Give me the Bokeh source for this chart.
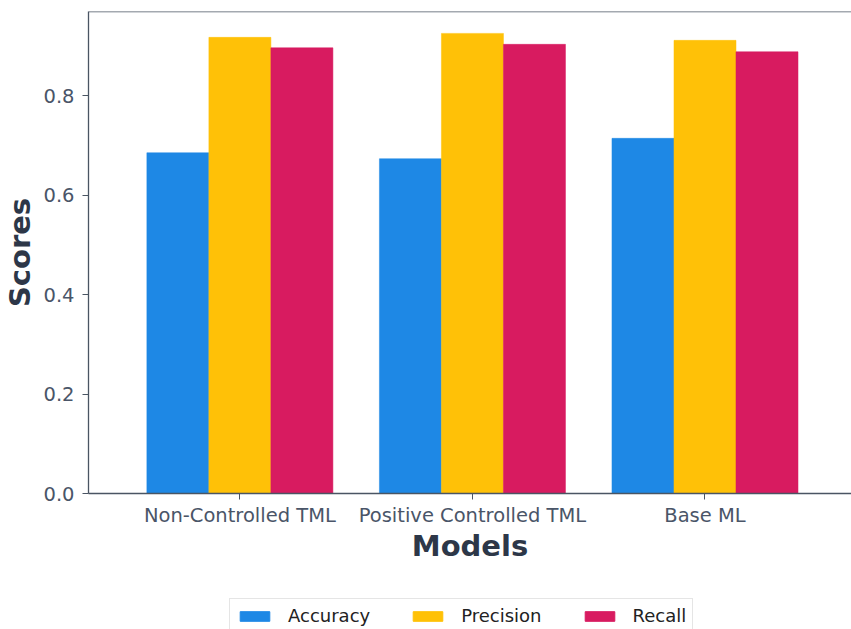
from bokeh.plotting import figure
from bokeh.layouts import column
from bokeh.models import ColumnDataSource, Range1d, FixedTicker, Legend, LegendItem, Span
from bokeh.transform import dodge
from bokeh.embed import file_html
from bokeh.resources import INLINE

models = ["Non-Controlled TML", "Positive Controlled TML", "Base ML"]
accuracy = [0.685, 0.673, 0.714]
precision = [0.917, 0.925, 0.911]
recall = [0.896, 0.903, 0.888]
y_ticks = [0.0, 0.2, 0.4, 0.6, 0.8]

series_names = ["Accuracy", "Precision", "Recall"]
colors = ["#1E88E5", "#FFC107", "#D81B60"]

pos = list(range(len(models)))
src = ColumnDataSource(dict(x=pos, Accuracy=accuracy, Precision=precision, Recall=recall))

FONT = "DejaVu Sans"
TICK_COLOR = "#4a5568"
AXIS_COLOR = "#4a5563"
LABEL_COLOR = "#2d3748"

p = figure(width=851, height=598, output_backend="svg", toolbar_location=None,
           x_range=Range1d(-0.651, 2.630), y_range=Range1d(0, 0.969),
           min_border_left=88, min_border_right=0, min_border_top=11, min_border_bottom=105)
p.outline_line_color = None
p.grid.visible = False
p.background_fill_color = "white"
p.border_fill_color = "white"

bw = 0.8 / 3
for i, (name, col) in enumerate(zip(series_names, colors)):
    p.vbar(x=dodge("x", (i - 1) * bw, range=p.x_range), top=name, width=bw,
           source=src, fill_color=col, line_color=col, line_width=0.5)

top_line = Span(location=0.969, dimension="width", line_color=AXIS_COLOR, line_width=1.3)
p.add_layout(top_line)

xa = p.xaxis[0]
xa.ticker = FixedTicker(ticks=pos)
xa.major_label_overrides = {i: m for i, m in enumerate(models)}
xa.minor_tick_line_color = None
xa.major_tick_out = 6
xa.major_tick_in = 0
xa.axis_line_color = AXIS_COLOR
xa.major_tick_line_color = AXIS_COLOR
xa.axis_line_width = 1.3
xa.major_label_text_font = FONT
xa.major_label_text_font_size = "19.5px"
xa.major_label_text_color = TICK_COLOR
xa.major_label_standoff = 4
xa.axis_label = "Models"
xa.axis_label_text_font = FONT
xa.axis_label_text_font_style = "bold"
xa.axis_label_text_font_size = "29px"
xa.axis_label_text_color = LABEL_COLOR
xa.axis_label_standoff = -1

ya = p.yaxis[0]
ya.ticker = FixedTicker(ticks=y_ticks)
ya.major_label_overrides = {t: f"{t:.1f}" for t in y_ticks}
ya.minor_tick_line_color = None
ya.major_tick_out = 6
ya.major_tick_in = 0
ya.axis_line_color = AXIS_COLOR
ya.major_tick_line_color = AXIS_COLOR
ya.axis_line_width = 1.3
ya.major_label_text_font = FONT
ya.major_label_text_font_size = "19.5px"
ya.major_label_text_color = TICK_COLOR
ya.major_label_standoff = 8
ya.axis_label = "Scores"
ya.axis_label_text_font = FONT
ya.axis_label_text_font_style = "bold"
ya.axis_label_text_font_size = "29px"
ya.axis_label_text_color = LABEL_COLOR
ya.axis_label_standoff = 3

# legend strip below the chart (its y range lies above the data, so only the legend shows)
lg = figure(width=851, height=31, output_backend="svg", toolbar_location=None,
            x_range=p.x_range, y_range=Range1d(10, 11),
            x_axis_location=None, y_axis_location=None, min_border=0)
lg.outline_line_color = None
lg.grid.visible = False
lg_renderers = []
for i, (name, col) in enumerate(zip(series_names, colors)):
    lg_renderers.append(lg.vbar(x=dodge("x", (i - 1) * bw, range=lg.x_range), top=name, width=bw,
                                source=src, fill_color=col, line_color=col))

legend = Legend(items=[LegendItem(label=n, renderers=[r]) for n, r in zip(series_names, lg_renderers)],
                orientation="horizontal", location=(141, -4), margin=0,
                glyph_width=37, glyph_height=12, label_standoff=15, spacing=39,
                padding=6, label_text_font=FONT, label_text_font_size="18px",
                label_text_color="#222222", border_line_color="#cccccc",
                border_line_width=1.5, background_fill_alpha=1.0)
lg.add_layout(legend, "center")

layout = column(p, lg, spacing=0)
open("out.html", "w").write(file_html(layout, INLINE))
